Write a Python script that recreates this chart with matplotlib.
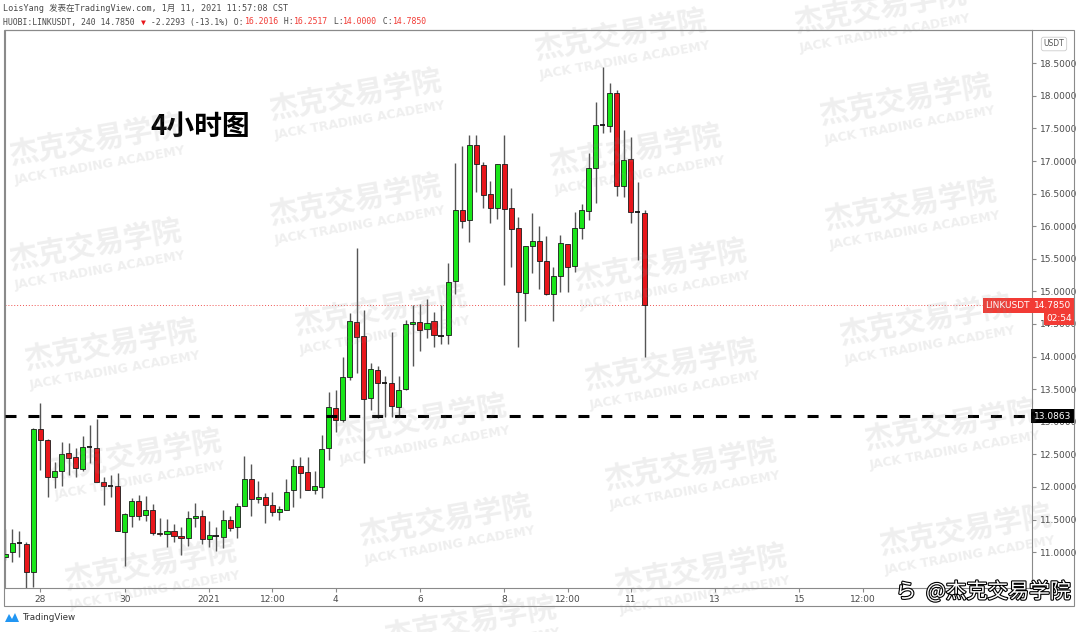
import numpy as np
import matplotlib
matplotlib.use('Agg')
import matplotlib.pyplot as plt
from matplotlib.patches import Rectangle, Polygon
import matplotlib.patheffects as pe

# 4h candles of HUOBI:LINKUSDT, Dec 27 04:00 -> Jan 11 08:00
opens = [10.93, 11.00, 11.14, 11.13, 10.69, 12.89, 12.72, 12.16, 12.24, 12.52,
         12.46, 12.27, 12.61, 12.60, 12.07, 12.02, 12.01, 11.31, 11.56, 11.79,
         11.57, 11.65, 11.30, 11.28, 11.32, 11.25, 11.22, 11.52, 11.56, 11.20,
         11.25, 11.24, 11.50, 11.38, 11.71, 12.12, 11.81, 11.84, 11.72, 11.62,
         11.65, 11.95, 12.32, 12.23, 11.95, 12.00, 12.60, 13.21, 13.02, 13.69,
         14.53, 14.32, 13.36, 13.80, 13.59, 13.59, 13.22, 13.50, 14.50, 14.53,
         14.42, 14.54, 14.32, 14.33, 15.16, 16.25, 16.10, 17.25, 16.94, 16.49,
         16.28, 16.96, 16.28, 15.98, 14.98, 15.69, 15.77, 15.46, 14.96, 15.23,
         15.73, 15.39, 15.98, 16.24, 16.89, 17.55, 17.54, 18.04, 16.62, 17.03,
         16.22, 16.2016]
highs = [11.35, 11.36, 11.33, 11.15, 12.90, 13.29, 12.74, 12.39, 12.69, 12.67,
         12.60, 12.78, 12.95, 13.04, 12.16, 12.19, 12.21, 11.60, 11.83, 11.88,
         11.86, 11.74, 11.53, 11.51, 11.43, 11.39, 11.63, 11.76, 11.64, 11.48,
         11.38, 11.64, 11.56, 11.75, 12.47, 12.35, 12.09, 11.90, 11.93, 11.71,
         12.12, 12.43, 12.46, 12.46, 12.24, 12.80, 13.46, 13.49, 14.00, 14.67,
         15.66, 14.72, 13.90, 13.86, 13.70, 14.38, 13.70, 14.56, 14.79, 14.81,
         14.88, 14.68, 14.79, 15.43, 16.97, 17.23, 17.40, 17.40, 16.98, 16.70,
         16.96, 17.40, 16.59, 16.14, 15.70, 16.20, 16.00, 15.85, 15.37, 15.87,
         15.73, 16.22, 16.34, 17.12, 17.90, 18.45, 18.20, 18.09, 17.47, 17.37,
         16.68, 16.2517]
lows = [10.88, 10.85, 10.93, 10.45, 10.47, 12.26, 11.85, 11.98, 12.02, 12.19,
        12.16, 12.24, 12.37, 12.07, 11.73, 11.85, 11.32, 10.79, 11.39, 11.50,
        11.48, 11.27, 11.25, 11.08, 11.15, 10.96, 11.09, 11.39, 11.13, 11.08,
        11.02, 11.06, 11.32, 11.22, 11.71, 11.55, 11.76, 11.44, 11.55, 11.50,
        11.65, 11.70, 11.83, 11.95, 11.89, 11.83, 12.42, 12.85, 13.00, 13.64,
        13.75, 12.37, 13.18, 13.06, 13.08, 13.08, 13.08, 13.48, 13.85, 14.08,
        14.28, 14.14, 14.20, 14.20, 14.96, 15.97, 15.76, 16.53, 16.28, 16.05,
        16.11, 15.10, 15.37, 14.14, 14.55, 15.28, 15.04, 14.94, 14.55, 14.99,
        14.99, 15.30, 15.80, 16.10, 16.35, 17.43, 17.45, 16.46, 16.45, 16.05,
        15.48, 14.00]
closes = [10.97, 11.14, 11.14, 10.69, 12.89, 12.72, 12.16, 12.24, 12.51, 12.44,
          12.29, 12.61, 12.61, 12.07, 12.01, 12.02, 11.32, 11.58, 11.79, 11.56,
          11.64, 11.30, 11.28, 11.33, 11.25, 11.22, 11.52, 11.56, 11.20, 11.26,
          11.25, 11.50, 11.37, 11.71, 12.12, 11.81, 11.85, 11.72, 11.62, 11.66,
          11.92, 12.32, 12.22, 11.95, 12.02, 12.58, 13.22, 13.03, 13.68, 14.54,
          14.30, 13.35, 13.81, 13.60, 13.59, 13.24, 13.49, 14.50, 14.53, 14.41,
          14.51, 14.33, 14.32, 15.14, 16.25, 16.08, 17.25, 16.95, 16.48, 16.28,
          16.96, 16.27, 15.96, 14.99, 15.70, 15.78, 15.46, 14.96, 15.23, 15.74,
          15.37, 15.98, 16.25, 16.89, 17.55, 17.55, 18.04, 16.62, 17.02, 16.22,
          16.22, 14.785]

time_ticks = [5, 17, 29, 38, 47, 59, 71, 80, 89, 101, 113, 122]
time_labels = ['28', '30', '2021', '12:00', '4', '6', '8', '12:00', '11', '13', '15', '12:00']
price_ticks = [11.0, 11.5, 12.0, 12.5, 13.0, 13.5, 14.0, 14.5, 15.0, 15.5, 16.0, 16.5, 17.0, 17.5, 18.0, 18.5]
last_price = 14.785
support = 13.0863

W, H = 1080, 632
def fx(px):
    return px / W
def fy(py):
    return 1 - py / H

RED = '#e8161b'
GREEN = '#19e619'
TAGRED = '#f23b35'
AXCOL = '#8a8a8a'
CJK = ['Noto Sans CJK SC', 'DejaVu Sans']
NARROW = ['Liberation Sans Narrow', 'DejaVu Sans']

fig = plt.figure(figsize=(10.8, 6.32), dpi=100)
ax = fig.add_axes([fx(5), fy(588), fx(1032) - fx(5), fy(30) - fy(588)])

o = np.array(opens); h = np.array(highs); l = np.array(lows); c = np.array(closes)
idx = np.arange(len(o))
up = c > o
dn = c < o
flat = c == o

ax.vlines(idx, l, h, color='#555555', lw=1.0, zorder=2)
ax.bar(idx[up], (c - o)[up], bottom=o[up], width=0.72, color=GREEN,
       edgecolor='#1a1a1a', linewidth=0.6, zorder=3)
ax.bar(idx[dn], (o - c)[dn], bottom=c[dn], width=0.72, color=RED,
       edgecolor='#1a1a1a', linewidth=0.6, zorder=3)
ax.hlines(o[flat], idx[flat] - 0.38, idx[flat] + 0.38, color='#111111', lw=1.3, zorder=3)

ax.axhline(last_price, color='#ef5350', lw=0.7, ls=(0, (1, 2)), zorder=1)
ax.axhline(support, color='black', lw=2.2, ls=(0, (3.6, 3.9)), zorder=4)

ax.set_xlim(-0.05, 146.1)
ax.set_ylim(10.45, 19.01)

ax.set_xticks(time_ticks)
ax.set_xticklabels(time_labels)
ax.set_yticks(price_ticks)
ax.set_yticklabels(['%.4f' % p for p in price_ticks])
ax.yaxis.tick_right()
ax.tick_params(axis='both', colors=AXCOL, labelcolor='#4a4a4a', length=3, width=0.8)
ax.tick_params(axis='y', pad=3)
ax.tick_params(axis='x', pad=2)
for lab in ax.get_xticklabels() + ax.get_yticklabels():
    lab.set_family(NARROW)
    lab.set_fontsize(6.5)
for s in ax.spines.values():
    s.set_color(AXCOL)
    s.set_linewidth(0.8)

# outer frame of chart incl. price and time scales
fig.add_artist(Rectangle((fx(4), fy(606)), fx(1074) - fx(4), fy(30) - fy(606),
                         transform=fig.transFigure, fill=False, ec=AXCOL, lw=0.8))

# price tags
yt = ax.get_yaxis_transform()
ax.text(1.002, last_price, '14.7850', transform=yt, ha='left', va='center', color='white',
        fontsize=6.5, family=NARROW, clip_on=False, zorder=10,
        bbox=dict(boxstyle='square,pad=0.3', fc=TAGRED, ec='none'))
ax.text(0.998, last_price, 'LINKUSDT', transform=yt, ha='right', va='center', color='white',
        fontsize=6.5, family=NARROW, clip_on=False, zorder=10,
        bbox=dict(boxstyle='square,pad=0.3', fc=TAGRED, ec='none'))
ax.annotate('02:54', xy=(1.0, last_price), xycoords=yt, xytext=(10, -9.5),
            textcoords='offset points', ha='left', va='center', color='white',
            fontsize=6.5, family=NARROW, annotation_clip=False, zorder=10,
            bbox=dict(boxstyle='square,pad=0.25', fc=TAGRED, ec='none'))
ax.text(1.002, support, '13.0863', transform=yt, ha='left', va='center', color='white',
        fontsize=6.5, family=NARROW, clip_on=False, zorder=10,
        bbox=dict(boxstyle='square,pad=0.3', fc='black', ec='none'))

fig.text(fx(1054), fy(44), 'USDT', ha='center', va='center', fontsize=5.5, color='#555555',
         family=NARROW, bbox=dict(boxstyle='round,pad=0.3', fc='white', ec='#cccccc', lw=0.6))

# header
fig.text(fx(3), fy(8), 'LoisYang 发表在TradingView.com, 1月 11, 2021 11:57:08 CST',
         ha='left', va='center', fontsize=6.1, color='#4a4a4a',
         family=['DejaVu Sans Mono', 'Noto Sans CJK SC'])
segs = [('HUOBI:LINKUSDT, 240 14.7850 ', '#4a4a4a'), ('▼', RED),
        (' -2.2293 (-13.1%) O:', '#4a4a4a'), ('16.2016', TAGRED), (' H:', '#4a4a4a'),
        ('16.2517', TAGRED), (' L:', '#4a4a4a'), ('14.0000', TAGRED), (' C:', '#4a4a4a'),
        ('14.7850', TAGRED)]
fs = 5.9
cw = 0.602 * fs * 100 / 72
n = 0
for txt, col in segs:
    fig.text(fx(3 + n * cw), fy(22), txt, ha='left', va='center', fontsize=fs, color=col,
             family=['DejaVu Sans Mono', 'DejaVu Sans'])
    n += len(txt)

# title on chart
fig.text(fx(150), fy(127), '4小时图', ha='left', va='center', fontsize=20,
         fontweight='bold', color='black', family=CJK)

# watermarks
centers = [(95, 140), (95, 245), (110, 345), (135, 455), (150, 565),
           (355, 95), (355, 200), (380, 310), (420, 420), (445, 520), (470, 622),
           (620, 35), (635, 150), (660, 265), (670, 365), (690, 465), (700, 570),
           (880, 8), (905, 100), (910, 205), (925, 320), (950, 425), (965, 530)]
for cx, cy in centers:
    fig.text(fx(cx), fy(cy), '杰克交易学院', ha='center', va='center', rotation=10,
             fontsize=21, fontweight='bold', color='#8c8c8c', alpha=0.14, family=CJK,
             zorder=20)
    fig.text(fx(cx + 5), fy(cy + 26), 'JACK TRADING ACADEMY', ha='center', va='center',
             rotation=10, fontsize=9, fontweight='bold', color='#8c8c8c', alpha=0.14,
             family='DejaVu Sans', zorder=20)

# weibo mark
fig.text(fx(1071), fy(592), '@杰克交易学院', ha='right', va='center', fontsize=15,
         color='white', family=CJK, zorder=30,
         path_effects=[pe.withStroke(linewidth=1.6, foreground='black')])
fig.text(fx(906), fy(592), 'ら', ha='center', va='center', fontsize=15, color='white',
         family=CJK, zorder=30,
         path_effects=[pe.withStroke(linewidth=1.6, foreground='black')])

# TradingView logo
fig.add_artist(Polygon([(fx(5), fy(622)), (fx(9), fy(614)), (fx(12), fy(619)),
                        (fx(15), fy(613)), (fx(19), fy(622))],
                       closed=True, transform=fig.transFigure, fc='#2196f3', ec='none'))
fig.text(fx(22), fy(618), 'TradingView', ha='left', va='center', fontsize=6.3,
         color='#333333', family=NARROW)

fig.savefig('out.png', dpi=100)
